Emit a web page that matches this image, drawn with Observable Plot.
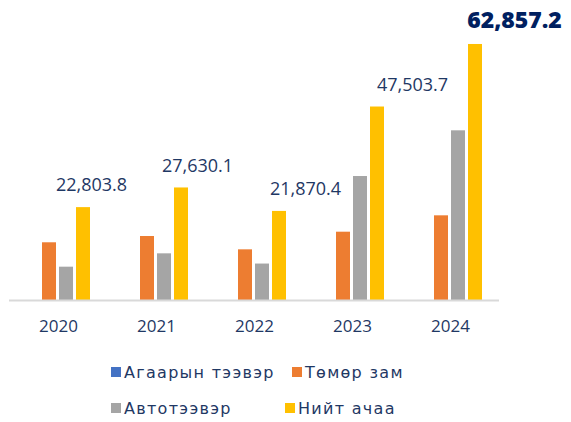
<!DOCTYPE html>
<html>
<head>
<meta charset="utf-8">
<script src="https://cdn.jsdelivr.net/npm/d3@7"></script>
<script src="https://cdn.jsdelivr.net/npm/@observablehq/plot@0.6"></script>
<style>
  html, body { margin: 0; padding: 0; background: #fff; }
  #wrap { position: relative; width: 571px; height: 422px; font-family: "Open Sans", sans-serif; }
  #chart { position: absolute; left: 0; top: 0; }
  .lg { position: absolute; display: flex; align-items: center; font-family: "DejaVu Sans", sans-serif; font-size: 16px; color: #1F3864; white-space: nowrap; letter-spacing: 1.3px; }
  .lg span.sw { display: inline-block; width: 10px; height: 10px; margin-right: 3px; }
</style>
</head>
<body>
<div id="wrap">
  <div id="chart"></div>
  <div id="legend"></div>
</div>
<script>
const years = ["2020", "2021", "2022", "2023", "2024"];
const series = ["Агаарын тээвэр", "Төмөр зам", "Автотээвэр", "Нийт ачаа"];
const colors = ["#4472C4", "#ED7D31", "#A5A5A5", "#FFC000"];
// values (thousand tons)
const air   = [2.6, 2.9, 3.1, 3.8, 4.1];
const rail  = [14170, 15710, 12440, 16770, 20790];
const road  = [8180, 11460, 8950, 30440, 41660];
const total = [22803.8, 27630.1, 21870.4, 47503.7, 62857.2];

// label nudges (px) to mimic the original placement of total labels
const labelNudge = [8, 16, 26, 35, 39];

const seriesValues = [air, rail, road, total];
const rows = [];
years.forEach((y, i) => {
  series.forEach((s, k) => rows.push({year: y, series: s, value: seriesValues[k][i]}));
});

const fmt = d3.format(",.1f");
const TOTAL = series[3];
const last = years.length - 1;

const labelMarks = years.map((yr, i) => Plot.text(rows, {
  filter: d => d.year === yr && d.series === TOTAL,
  x: "series",
  y: "value",
  text: d => fmt(d.value),
  dx: labelNudge[i],
  dy: i === last ? -24 : -22,
  fontSize: i === last ? 23 : 18,
  fontWeight: i === last ? 800 : 400,
  fill: i === last ? "#002060" : "#1F3864"
}));

const chart = Plot.plot({
  width: 571,
  height: 340,
  marginTop: 10,
  marginBottom: 40,
  marginLeft: 7,
  marginRight: 71,
  style: {fontFamily: "Open Sans, sans-serif", fontSize: "17px", color: "#1F3864", background: "transparent"},
  facet: {data: rows, x: "year"},
  fx: {domain: years, padding: 0, label: null, tickSize: 0, tickPadding: 19},
  x: {domain: series, paddingInner: 0.15, paddingOuter: 0.85, axis: null},
  y: {domain: [0, 71200], axis: null},
  color: {domain: series, range: colors},
  marks: [
    Plot.barY(rows, {x: "series", y: "value", fill: "series"}),
    Plot.ruleY([0], {stroke: "#D9D9D9", strokeWidth: 2}),
    ...labelMarks
  ]
});
document.getElementById("chart").appendChild(chart);

// legend
const legendPos = [
  {left: 111, top: 362},
  {left: 292, top: 362},
  {left: 111, top: 398},
  {left: 285, top: 398}
];
const legend = document.getElementById("legend");
series.forEach((s, k) => {
  const div = document.createElement("div");
  div.className = "lg";
  div.style.left = legendPos[k].left + "px";
  div.style.top = legendPos[k].top + "px";
  div.style.height = "20px";
  const sw = document.createElement("span");
  sw.className = "sw";
  sw.style.background = colors[k];
  div.appendChild(sw);
  div.appendChild(document.createTextNode(s));
  legend.appendChild(div);
});
</script>
</body>
</html>
